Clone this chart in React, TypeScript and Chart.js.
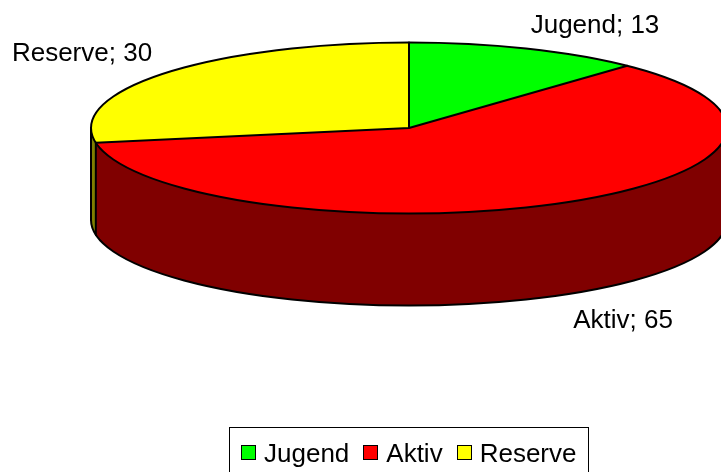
import { useEffect, useRef } from "react";
import { Chart, registerables } from "chart.js";

Chart.register(...registerables);

// ---- data ----
const CATEGORIES = ["Jugend", "Aktiv", "Reserve"];
const VALUES = [13, 65, 30];
const FACE_COLORS = ["#00ff00", "#ff0000", "#ffff00"];
const SIDE_COLORS = ["#008000", "#800000", "#808000"];
const DATA_LABELS = CATEGORIES.map((c, i) => `${c}; ${VALUES[i]}`);

// ---- layout / style ----
const GEOM = { cx: 409, cy: 128, rx: 318, ry: 85.5, depth: 92 };
const LABEL_POS = [
  { x: 595, y: 33 },
  { x: 623, y: 328 },
  { x: 82, y: 61 },
];
const LEGEND_STYLE = { top: 427, baseline: 462, sq: 15, sqTop: 445, gap: 8, spacing: 14, padX: 12 };
const FONT = '26px "Liberation Sans", Arial, sans-serif';

const pie3d = {
  id: "pie3d",
  beforeDatasetsDraw(chart: any) {
    const ctx = chart.ctx as CanvasRenderingContext2D;
    const arcs = chart.getDatasetMeta(0).data as any[];
    chart.$p3dSaved = false;
    if (!arcs.length) return;
    const { cx, cy, rx, ry, depth } = GEOM;
    // extruded side (front half only)
    arcs.forEach((arc, i) => {
      const s = arc.startAngle;
      const e = arc.endAngle;
      const a0 = Math.max(s, 0);
      const a1 = Math.min(e, Math.PI);
      if (a1 <= a0) return;
      ctx.beginPath();
      ctx.ellipse(cx, cy, rx, ry, 0, a0, a1);
      ctx.ellipse(cx, cy + depth, rx, ry, 0, a1, a0, true);
      ctx.closePath();
      ctx.fillStyle = SIDE_COLORS[i % SIDE_COLORS.length];
      ctx.fill();
    });
    const a = arcs[0];
    ctx.save();
    chart.$p3dSaved = true;
    ctx.translate(cx, cy);
    ctx.scale(rx / a.outerRadius, ry / a.outerRadius);
    ctx.translate(-a.x, -a.y);
  },
  afterDatasetsDraw(chart: any) {
    const ctx = chart.ctx as CanvasRenderingContext2D;
    if (chart.$p3dSaved) ctx.restore();
    const arcs = chart.getDatasetMeta(0).data as any[];
    const { cx, cy, rx, ry, depth } = GEOM;
    const pt = (ang: number) => [cx + rx * Math.cos(ang), cy + ry * Math.sin(ang)];
    ctx.save();
    ctx.lineWidth = 2;
    ctx.strokeStyle = "#000";
    ctx.lineJoin = "round";
    ctx.lineCap = "round";
    // bottom front arc
    ctx.beginPath();
    ctx.ellipse(cx, cy + depth, rx, ry, 0, 0, Math.PI);
    ctx.stroke();
    // verticals
    ctx.beginPath();
    const vert = (ang: number) => {
      const [x, y] = pt(ang);
      ctx.moveTo(x, y);
      ctx.lineTo(x, y + depth);
    };
    vert(0);
    vert(Math.PI);
    arcs.forEach((arc) => {
      const s = arc.startAngle;
      if (s > 0 && s < Math.PI) vert(s);
    });
    ctx.stroke();
    // top ellipse
    ctx.beginPath();
    ctx.ellipse(cx, cy, rx, ry, 0, 0, Math.PI * 2);
    ctx.stroke();
    // radial boundaries
    ctx.beginPath();
    arcs.forEach((arc) => {
      const [x, y] = pt(arc.startAngle);
      ctx.moveTo(cx, cy);
      ctx.lineTo(x, y);
    });
    ctx.stroke();
    ctx.restore();
  },
  afterDraw(chart: any) {
    const ctx = chart.ctx as CanvasRenderingContext2D;
    ctx.save();
    ctx.font = FONT;
    ctx.fillStyle = "#000";
    ctx.textBaseline = "alphabetic";
    // data labels
    ctx.textAlign = "center";
    DATA_LABELS.forEach((t, i) => ctx.fillText(t, LABEL_POS[i].x, LABEL_POS[i].y));
    // legend
    const L = LEGEND_STYLE;
    const labels: string[] = chart.data.labels;
    const colors: string[] = chart.data.datasets[0].backgroundColor;
    const widths = labels.map((l) => ctx.measureText(l).width);
    const total =
      L.padX * 2 +
      widths.reduce((acc, w) => acc + L.sq + L.gap + w, 0) +
      L.spacing * (labels.length - 1);
    let x = Math.round(GEOM.cx - total / 2);
    ctx.lineWidth = 1;
    ctx.strokeStyle = "#000";
    ctx.strokeRect(x + 0.5, L.top + 0.5, Math.round(total), 60);
    x += L.padX;
    ctx.textAlign = "left";
    labels.forEach((l, i) => {
      const sx = Math.round(x);
      ctx.fillStyle = colors[i];
      ctx.fillRect(sx, L.sqTop, L.sq, L.sq);
      ctx.strokeRect(sx + 0.5, L.sqTop + 0.5, L.sq - 1, L.sq - 1);
      ctx.fillStyle = "#000";
      ctx.fillText(l, x + L.sq + L.gap, L.baseline);
      x += L.sq + L.gap + widths[i] + L.spacing;
    });
    ctx.restore();
  },
};

export default function App() {
  const ref = useRef<HTMLCanvasElement>(null);
  useEffect(() => {
    document.body.style.margin = "0";
    const chart = new Chart(ref.current as HTMLCanvasElement, {
      type: "pie",
      data: {
        labels: CATEGORIES,
        datasets: [
          {
            data: VALUES,
            backgroundColor: FACE_COLORS,
            borderWidth: 0,
            hoverOffset: 0,
            clip: false as any,
          },
        ],
      },
      options: {
        responsive: false,
        animation: false,
        devicePixelRatio: 1,
        events: [],
        plugins: { legend: { display: false }, tooltip: { enabled: false } },
      },
      plugins: [pie3d as any],
    });
    return () => chart.destroy();
  }, []);
  return (
    <div style={{ width: 721, height: 472 }}>
      <canvas ref={ref} width={721} height={472} style={{ display: "block" }} />
    </div>
  );
}
